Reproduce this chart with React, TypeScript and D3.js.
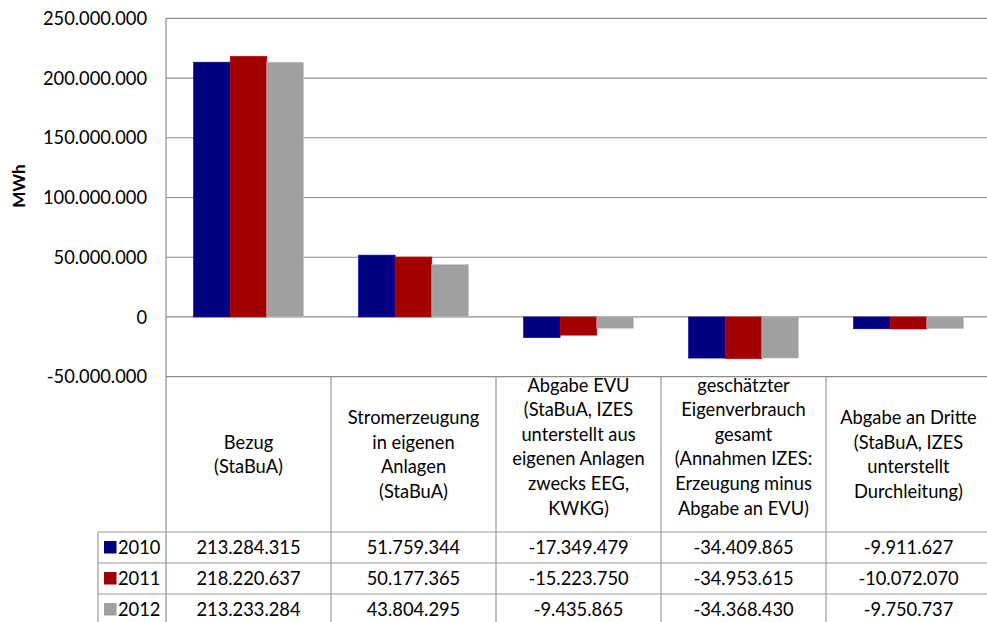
import React from "react";
import * as d3 from "d3";

const categories = ["Bezug", "Stromerzeugung", "AbgabeEVU", "Eigenverbrauch", "AbgabeDritte"];
const categoryLabels = [
  ["Bezug", "(StaBuA)"],
  ["Stromerzeugung", "in eigenen", "Anlagen", "(StaBuA)"],
  ["Abgabe EVU", "(StaBuA, IZES", "unterstellt aus", "eigenen Anlagen", "zwecks EEG,", "KWKG)"],
  ["geschätzter", "Eigenverbrauch", "gesamt", "(Annahmen IZES:", "Erzeugung minus", "Abgabe an EVU)"],
  ["Abgabe an Dritte", "(StaBuA, IZES", "unterstellt", "Durchleitung)"],
];
const years = ["2010", "2011", "2012"];
const values2010 = [213284315, 51759344, -17349479, -34409865, -9911627];
const values2011 = [218220637, 50177365, -15223750, -34953615, -10072070];
const values2012 = [213233284, 43804295, -9435865, -34368430, -9750737];
const seriesValues = [values2010, values2011, values2012];
const seriesColors = ["#000080", "#A00000", "#A0A0A0"];
const yTicks = [-50000000, 0, 50000000, 100000000, 150000000, 200000000, 250000000];
const yLabel = "MWh";

const W = 987;
const H = 622;
const FONT = "Lato, 'Open Sans', sans-serif";
const FS = 18.3;

const locale = d3.formatLocale({ decimal: ",", thousands: ".", grouping: [3], currency: ["", "€"], minus: "-" });
const fmt = locale.format(",d");

export default function App() {
  const plotLeft = 166;
  const plotRight = 991;
  const plotTop = 18.3;
  const plotBottom = 376.7;

  const y = d3.scaleLinear().domain([-50000000, 250000000]).range([plotBottom, plotTop]);
  const x = d3.scaleBand<string>().domain(categories).range([plotLeft, plotRight]).padding(0);
  const cw = x.bandwidth();
  const bw = cw / 4.5;
  const xs = d3.scaleBand<string>().domain(years).range([cw / 2 - 1.5 * bw, cw / 2 + 1.5 * bw]).padding(0);

  const headerTop = plotBottom;
  const headerBottom = 532;
  const rowH = 31;
  const tableLeft = 98;
  const lineH = 24.6;
  const headerCenter = (headerTop + headerBottom) / 2;

  const gridColor = "#8c8c8c";
  const tableColor = "#9a9a9a";

  return (
    <svg width={W} height={H} style={{ position: "absolute", left: 0, top: 0, background: "#fff" }} fontFamily={FONT}>
      {yTicks.map((t) => (
        <line key={"g" + t} x1={plotLeft} x2={plotRight} y1={y(t)} y2={y(t)} stroke={gridColor} strokeWidth={1.2} />
      ))}
      {yTicks.map((t) => (
        <text key={"t" + t} x={147} y={y(t)} dy="0.36em" textAnchor="end" fontSize={FS} fill="#000">
          {fmt(t)}
        </text>
      ))}
      <text
        transform={`translate(18.5,186) rotate(-90)`}
        textAnchor="middle"
        dy="0.36em"
        fontSize={17}
        fontWeight="bold"
        fill="#000"
      >
        {yLabel}
      </text>
      {seriesValues.map((vals, si) =>
        vals.map((v, ci) => {
          const x0 = (x(categories[ci]) as number) + (xs(years[si]) as number);
          const y0 = Math.min(y(v), y(0));
          const h = Math.abs(y(v) - y(0));
          return (
            <rect
              key={`b${si}-${ci}`}
              x={x0}
              y={y0}
              width={xs.bandwidth()}
              height={h}
              fill={seriesColors[si]}
              stroke={d3.color(seriesColors[si])!.brighter(0.6).toString()}
              strokeWidth={0.6}
            />
          );
        })
      )}
      <line x1={plotLeft} x2={plotLeft} y1={plotTop} y2={H} stroke={gridColor} strokeWidth={1.2} />
      {categories.map((c, i) =>
        i === 0 ? null : (
          <line key={"v" + c} x1={x(c)} x2={x(c)} y1={headerTop} y2={H} stroke={tableColor} strokeWidth={1.2} />
        )
      )}
      <line x1={tableLeft} x2={tableLeft} y1={headerBottom} y2={H} stroke={tableColor} strokeWidth={1.2} />
      {[0, 1, 2, 3].map((r) => (
        <line
          key={"h" + r}
          x1={tableLeft}
          x2={plotRight}
          y1={headerBottom + r * rowH}
          y2={headerBottom + r * rowH}
          stroke={tableColor}
          strokeWidth={1.2}
        />
      ))}
      {categoryLabels.map((lines, ci) => {
        const cx = (x(categories[ci]) as number) + cw / 2;
        const first = lines.length > 4 ? 385 : headerCenter - ((lines.length - 1) / 2) * lineH;
        return (
          <g key={"hl" + ci}>
            {lines.map((ln, li) => (
              <text key={li} x={cx} y={first + li * lineH} dy="0.36em" textAnchor="middle" fontSize={FS} fill="#000">
                {ln}
              </text>
            ))}
          </g>
        );
      })}
      {years.map((yr, si) => {
        const cy = headerBottom + si * rowH + rowH / 2;
        return (
          <g key={"r" + yr}>
            <rect x={104} y={cy - 6.5} width={12.5} height={12.5} fill={seriesColors[si]} />
            <text x={118} y={cy} dy="0.36em" fontSize={FS} fill="#000">
              {yr}
            </text>
            {seriesValues[si].map((v, ci) => (
              <text
                key={ci}
                x={(x(categories[ci]) as number) + cw / 2}
                y={cy}
                dy="0.36em"
                textAnchor="middle"
                fontSize={FS}
                fill="#000"
              >
                {fmt(v)}
              </text>
            ))}
          </g>
        );
      })}
    </svg>
  );
}
